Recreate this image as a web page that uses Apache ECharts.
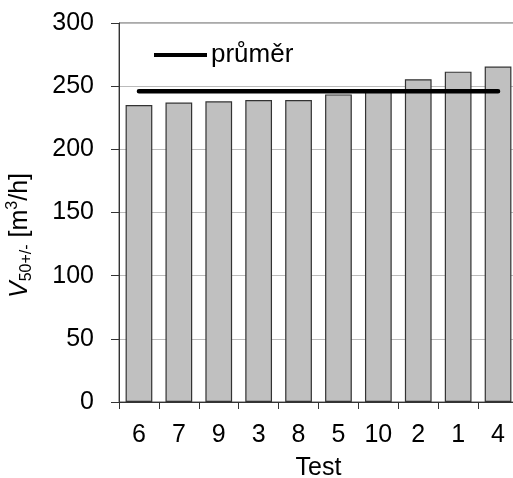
<!DOCTYPE html>
<html>
<head>
<meta charset="utf-8">
<script src="https://cdn.jsdelivr.net/npm/echarts@6/dist/echarts.min.js"></script>
<style>
  html, body { margin: 0; padding: 0; background: #fff; }
  #chart { width: 513px; height: 478px; }
</style>
</head>
<body>
<div id="chart"></div>
<script>
// pořadí testů na ose x
const tests = ['6', '7', '9', '3', '8', '5', '10', '2', '1', '4']
// V50+/- [m3/h]
const values = [235, 237, 238, 239, 239, 243.5, 246, 255.5, 261.5, 265.5]
// průměr
const mean = [246, 246, 246, 246, 246, 246, 246, 246, 246, 246]
const yTicks = { min: 0, max: 300, interval: 50 }

const font = 'Liberation Sans, Arial, sans-serif'

let chart = echarts.init(document.getElementById('chart'), null, { renderer: 'canvas' })

let option = {
  animation: false,
  textStyle: { fontFamily: font, color: '#000' },
  grid: {
    left: 119,
    right: -5,
    top: 23,
    bottom: 76,
    show: true,
    borderColor: '#555',
    borderWidth: 1,
    containLabel: false,
    outerBoundsMode: 'none'
  },
  legend: {
    left: 154,
    top: 42,
    padding: 0,
    icon: 'rect',
    itemWidth: 53,
    itemHeight: 4,
    itemGap: 6,
    textStyle: { fontFamily: font, fontSize: 26, color: '#000', padding: [0, 0, 0, -1] },
    data: ['průměr']
  },
  xAxis: {
    type: 'category',
    data: tests,
    name: 'Test',
    nameLocation: 'middle',
    nameGap: 54,
    nameTextStyle: { fontFamily: font, fontSize: 25, color: '#000' },
    axisLine: { lineStyle: { color: '#333', width: 1 } },
    axisTick: { show: true, length: 7, lineStyle: { color: '#333' } },
    axisLabel: { fontFamily: font, fontSize: 25, color: '#000', margin: 21 },
    splitLine: { show: false }
  },
  yAxis: {
    type: 'value',
    min: yTicks.min,
    max: yTicks.max,
    interval: yTicks.interval,
    name: '{i|V}{sub|50+/-}{n| [m}{sup|3}{n|/h]}',
    nameLocation: 'middle',
    nameRotate: 90,
    nameGap: 84,
    nameTextStyle: {
      fontFamily: font,
      fontSize: 25,
      color: '#000',
      padding: [0, 46, 0, 0],
      rich: {
        i: { fontFamily: font, fontSize: 25, fontStyle: 'italic', lineHeight: 30, verticalAlign: 'middle' },
        sub: { fontFamily: font, fontSize: 16, lineHeight: 16, verticalAlign: 'bottom' },
        n: { fontFamily: font, fontSize: 25, lineHeight: 30, verticalAlign: 'middle' },
        sup: { fontFamily: font, fontSize: 16, lineHeight: 16, verticalAlign: 'top' }
      }
    },
    axisLine: { show: true, lineStyle: { color: '#333', width: 1 } },
    axisTick: { show: true, length: 8, lineStyle: { color: '#333' } },
    axisLabel: { fontFamily: font, fontSize: 25, color: '#000', margin: 25 },
    splitLine: { show: true, lineStyle: { color: '#bbb', width: 1 } }
  },
  series: [
    {
      name: 'V',
      type: 'bar',
      data: values,
      barWidth: '67%',
      itemStyle: { color: '#c0c0c0', borderColor: '#333', borderWidth: 1.2 },
      z: 2
    },
    {
      name: 'průměr',
      type: 'line',
      data: mean,
      symbol: 'none',
      itemStyle: { color: '#000' },
      lineStyle: { color: '#000', width: 4.5, cap: 'round' },
      z: 3
    }
  ]
}

chart.setOption(option)
</script>
</body>
</html>
